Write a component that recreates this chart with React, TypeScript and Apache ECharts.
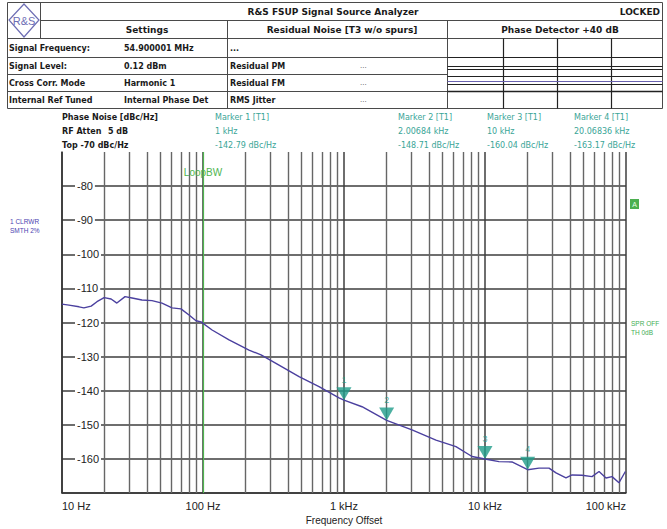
import React, { useEffect, useRef } from 'react';
import * as echarts from 'echarts';

// ---- data ----
const freqHz = [10, 11.2, 13.2, 14.3, 16.1, 17.7, 19.9, 22.3, 24.5, 28, 31.4, 36.9, 43.5, 51.2, 60.3, 69.8, 79.6, 89.2, 96.8, 116, 153, 212, 258, 346, 480, 665, 922, 1000, 1342, 2007, 3035, 4490, 6225, 8090, 10000, 12560, 15530, 20070, 24150, 28440, 31900, 37510, 41410, 48750, 57400, 64400, 72100, 79600, 89200, 99000];
const noiseDbc = [-114.6, -114.9, -115.4, -115.7, -115.2, -113.9, -112.7, -113.1, -114.3, -112.4, -112.8, -113.4, -113.6, -114.3, -115.7, -116.0, -117.8, -119.5, -119.8, -122.2, -125.1, -128.1, -129.5, -132.5, -135.9, -138.8, -142.1, -142.79, -144.7, -148.7, -151.5, -154.5, -156.4, -159.3, -160.04, -160.8, -160.9, -163.17, -162.7, -162.7, -164.1, -165.6, -164.7, -164.8, -165.2, -163.7, -165.6, -165.2, -167.0, -163.7];

const markerNames = ['1', '2', '3', '4'];
const markerFreqHz = [1000, 2006.84, 10000, 20068.36];
const markerDbc = [-142.79, -148.71, -160.04, -163.17];

const xTickValues = [10, 100, 1000, 10000, 100000];
const xTickLabels = ['10 Hz', '100 Hz', '1 kHz', '10 kHz', '100 kHz'];
const yMin = -170;
const yMax = -70;
const yStep = 10;
const loopBwHz = 100;
const loopBwLabelDb = -76;

const titleText = 'R&S FSUP Signal Source Analyzer';
const statusText = 'LOCKED';
const columnHeaders = ['Settings', 'Residual Noise [T3 w/o spurs]', 'Phase Detector +40 dB'];
const settingsLabels = ['Signal Frequency:', 'Signal Level:', 'Cross Corr. Mode', 'Internal Ref Tuned'];
const settingsValues = ['54.900001 MHz', '0.12 dBm', 'Harmonic 1', 'Internal Phase Det'];
const residualLabels = ['...', 'Residual PM', 'Residual FM', 'RMS Jitter'];
const residualValues = ['', '...', '...', '...'];
const infoLines = ['Phase Noise [dBc/Hz]', 'RF Atten', 'Top -70 dBc/Hz'];
const rfAttenValue = '5 dB';
const markerHeaderLines = [
  ['Marker 1 [T1]', '1 kHz', '-142.79 dBc/Hz'],
  ['Marker 2 [T1]', '2.00684 kHz', '-148.71 dBc/Hz'],
  ['Marker 3 [T1]', '10 kHz', '-160.04 dBc/Hz'],
  ['Marker 4 [T1]', '20.06836 kHz', '-163.17 dBc/Hz'],
];
const traceInfo = ['1 CLRWR', 'SMTH 2%'];
const sideInfo = ['SPR OFF', 'TH 0dB'];

// ---- styles ----
const TRACE = '#4b409f';
const TEAL = '#1f9c8a';
const TEAL_TXT = '#3aa597';
const GREEN = '#4fb54f';
const GRID_DARK = '#3e3e3e';
const GRID_MINOR = '#666666';
const TABLE = '#4a4a4a';
const HDR_FONT = '"DejaVu Sans", sans-serif';
const CH_FONT = '"Liberation Sans", Arial, sans-serif';

function txt(x: number, y: number, text: string, o: any = {}) {
  return {
    type: 'text',
    x,
    y,
    silent: true,
    style: {
      text,
      fill: o.fill || '#1a1a1a',
      font: `${o.weight || 'bold'} ${o.size || 8}px ${o.family || HDR_FONT}`,
      textAlign: o.align || 'left',
      textVerticalAlign: 'middle',
    },
  };
}
function hline(x1: number, x2: number, y: number, stroke = TABLE, w = 1) {
  return { type: 'line', silent: true, shape: { x1, y1: y, x2, y2: y }, style: { stroke, lineWidth: w } };
}
function vline(x: number, y1: number, y2: number, stroke = TABLE, w = 1) {
  return { type: 'line', silent: true, shape: { x1: x, y1, x2: x, y2 }, style: { stroke, lineWidth: w } };
}

function buildGraphics() {
  const g: any[] = [];
  // table frame
  g.push({ type: 'rect', silent: true, shape: { x: 7.5, y: 2.5, width: 655, height: 106 }, style: { fill: 'none', stroke: TABLE, lineWidth: 1 } });
  g.push(vline(40.5, 2.5, 38.5));
  g.push(hline(40.5, 662.5, 20.5));
  g.push(hline(7.5, 662.5, 38.5));
  g.push(vline(227.5, 20.5, 108.5));
  g.push(vline(447.5, 20.5, 108.5));
  [57.5, 74.5, 91.5].forEach((y) => g.push(hline(7.5, 447.5, y)));
  // right sub table
  [503.5, 557.5, 611.5].forEach((x) => g.push(vline(x, 38.5, 108.5, '#222', 1.2)));
  g.push(hline(447.5, 662.5, 57.5, '#222', 1.2));
  g.push(hline(447.5, 662.5, 66.5, '#222', 1.2));
  g.push(hline(447.5, 662.5, 69.5, '#222', 1.2));
  g.push(hline(447.5, 662.5, 76.5, '#222', 1.2));
  g.push(hline(447.5, 662.5, 81.5, '#6a62b0', 1));
  g.push(hline(447.5, 662.5, 84.5, '#222', 1.2));
  g.push(hline(447.5, 662.5, 91.5, '#222', 1.5));
  // logo
  g.push({ type: 'polygon', silent: true, shape: { points: [[24, 4], [39, 20], [24, 37], [9, 20]] }, style: { fill: 'none', stroke: '#6d6db4', lineWidth: 1.2 } });
  g.push(txt(24, 21, 'R&S', { fill: '#6d6db4', size: 11, weight: 'normal', align: 'center', family: CH_FONT }));
  // title row
  g.push(txt(333, 11.5, titleText, { size: 9, align: 'center' }));
  g.push(txt(660, 11.5, statusText, { size: 9, align: 'right' }));
  const hdrX = [147, 342, 560];
  columnHeaders.forEach((t, i) => g.push(txt(hdrX[i], 29.5, t, { size: 9, align: 'center' })));
  const rowY = [48, 66, 83, 100];
  rowY.forEach((y, i) => {
    g.push(txt(9, y, settingsLabels[i], { size: 8 }));
    g.push(txt(124, y, settingsValues[i], { size: 8 }));
    g.push(txt(230, y, residualLabels[i], { size: 8 }));
    if (residualValues[i]) g.push(txt(360, y, residualValues[i], { size: 7, weight: 'normal', fill: '#555' }));
  });
  // info block
  const infoY = [117, 131, 145];
  infoLines.forEach((t, i) => g.push(txt(62, infoY[i], t, { size: 8 })));
  g.push(txt(108, infoY[1], rfAttenValue, { size: 8 }));
  const mX = [215, 398, 487, 574];
  markerHeaderLines.forEach((lines, j) => {
    lines.forEach((t, i) => g.push(txt(mX[j], infoY[i], t, { size: 8, weight: 'normal', fill: TEAL_TXT })));
  });
  // trace info at left
  traceInfo.forEach((t, i) => g.push(txt(10, 221 + i * 9, t, { size: 6.5, weight: 'normal', fill: '#4b42b0', family: CH_FONT })));
  // "A" box and side info
  g.push({ type: 'rect', silent: true, shape: { x: 630, y: 199, width: 9, height: 10 }, style: { fill: '#4caf50' } });
  g.push(txt(634.5, 204.5, 'A', { size: 7, weight: 'normal', fill: '#e8ffe8', align: 'center', family: CH_FONT }));
  sideInfo.forEach((t, i) => g.push(txt(631, 323 + i * 9, t, { size: 6.5, weight: 'normal', fill: '#3fae55', family: CH_FONT })));
  return g;
}

export default function App() {
  const ref = useRef<HTMLDivElement>(null);
  useEffect(() => {
    if (!ref.current) return;
    const chart = echarts.init(ref.current, null, { renderer: 'svg' });
    const minorFreqs: number[] = [];
    for (let d = 0; d < xTickValues.length - 1; d++) {
      for (let m = 2; m <= 9; m++) minorFreqs.push(xTickValues[d] * m);
    }
    const labelMap: Record<string, string> = {};
    xTickValues.forEach((v, i) => (labelMap[String(v)] = xTickLabels[i]));

    chart.setOption({
      animation: false,
      backgroundColor: '#fff',
      grid: { left: 62, right: 41, top: 152, bottom: 36, containLabel: false, outerBoundsMode: 'none' },
      xAxis: {
        type: 'log',
        logBase: 10,
        min: xTickValues[0],
        max: xTickValues[xTickValues.length - 1],
        name: 'Frequency Offset',
        nameLocation: 'middle',
        nameGap: 22,
        nameTextStyle: { fontFamily: CH_FONT, fontSize: 10, color: '#222' },
        axisLine: { show: true, lineStyle: { color: '#333', width: 1.5 } },
        axisTick: { show: false },
        axisLabel: {
          fontFamily: CH_FONT,
          fontSize: 11,
          color: '#222',
          margin: 7,
          alignMinLabel: 'left',
          alignMaxLabel: 'right',
          formatter: (v: number) => labelMap[String(Math.round(v))] || '',
        },
        splitLine: { show: true, showMinLine: true, showMaxLine: true, lineStyle: { color: GRID_DARK, width: 1.5 } },
      },
      yAxis: {
        type: 'value',
        min: yMin,
        max: yMax,
        interval: yStep,
        axisLine: { show: true, lineStyle: { color: '#333', width: 1.5 } },
        axisTick: { show: false },
        axisLabel: {
          inside: true,
          margin: 13,
          fontFamily: CH_FONT,
          fontSize: 11,
          color: '#222',
          backgroundColor: '#fff',
          padding: [0, 2],
          showMinLabel: false,
          showMaxLabel: false,
        },
        splitLine: { show: true, showMaxLine: false, lineStyle: { color: GRID_DARK, width: 1.5 } },
      },
      graphic: buildGraphics(),
      series: [
        {
          type: 'line',
          name: 'grid',
          data: [],
          z: 1,
          silent: true,
          markLine: {
            silent: true,
            z: 1,
            symbol: ['none', 'none'],
            label: { show: false },
            emphasis: { disabled: true },
            lineStyle: { color: GRID_MINOR, width: 1.4, type: 'solid' },
            data: [
              ...minorFreqs.map((v) => ({ xAxis: v })),
              { xAxis: loopBwHz, lineStyle: { color: GREEN, width: 1.2, type: 'solid' } },
            ],
          },
          markPoint: {
            silent: true,
            symbol: 'rect',
            symbolSize: 0,
            label: { show: true, formatter: 'LoopBW', color: GREEN, fontFamily: CH_FONT, fontSize: 10, position: 'inside' },
            data: [{ coord: [loopBwHz, loopBwLabelDb] }],
          },
        },
        {
          type: 'line',
          name: 'trace',
          z: 3,
          symbol: 'none',
          showSymbol: false,
          lineStyle: { color: TRACE, width: 1.4 },
          data: freqHz.map((f, i) => [f, noiseDbc[i]]),
        },
        {
          type: 'scatter',
          name: 'markers',
          z: 4,
          symbol: 'triangle',
          symbolRotate: 180,
          symbolSize: [15, 13],
          symbolOffset: [0, -6.5],
          itemStyle: { color: TEAL },
          label: {
            show: true,
            position: 'top',
            distance: 3,
            color: TEAL,
            fontFamily: CH_FONT,
            fontSize: 9,
            formatter: (p: any) => markerNames[p.dataIndex],
          },
          data: markerFreqHz.map((f, i) => [f, markerDbc[i]]),
        },
      ],
    });
    return () => chart.dispose();
  }, []);
  return <div ref={ref} style={{ position: 'fixed', left: 0, top: 0, width: 667, height: 529, background: '#fff' }} />;
}
